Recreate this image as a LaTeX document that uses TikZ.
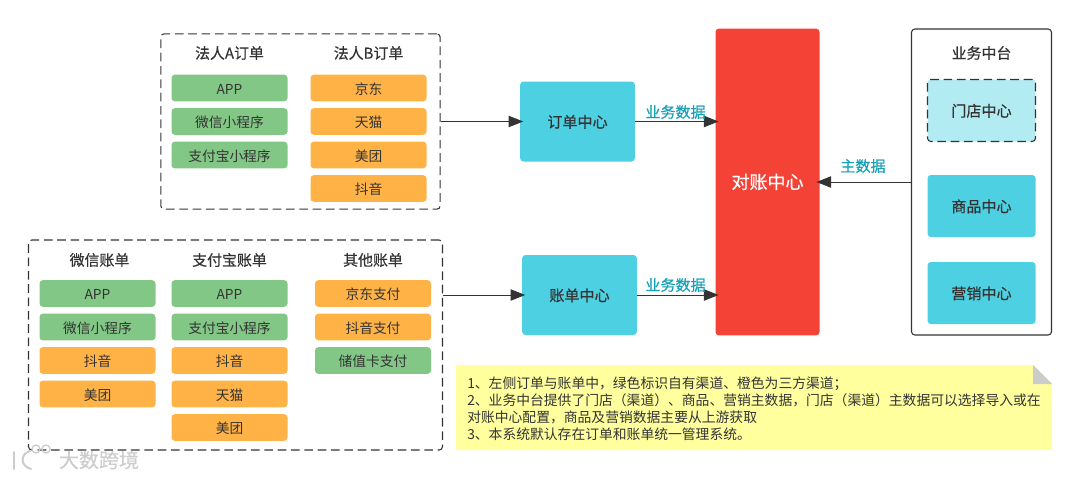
\documentclass[tikz,border=0pt]{standalone}
\usepackage{fontspec}
\usepackage{xcolor}
\usetikzlibrary{arrows.meta}
\setmainfont{Noto Sans CJK SC}
\definecolor{selfgreen}{RGB}{130, 199, 133}
\definecolor{thirdorange}{RGB}{255, 179, 71}
\definecolor{centercyan}{RGB}{77, 208, 225}
\definecolor{lightcyan}{RGB}{178, 235, 242}
\definecolor{reconred}{RGB}{244, 67, 54}
\definecolor{notegold}{RGB}{255, 255, 158}
\definecolor{labelteal}{RGB}{23, 160, 182}
\definecolor{inkgray}{RGB}{51, 51, 51}
\tikzset{
  box/.style={rounded corners=2.5pt,inner sep=0pt,text=inkgray,text height=10.6pt,text depth=1.5pt,font=\fontsize{10.3}{12.75}\selectfont},
  chan/.style={box,minimum width=87pt,minimum height=20pt},
  selfchan/.style={chan,fill=selfgreen},
  thirdchan/.style={chan,fill=thirdorange},
  groupbox/.style={box,draw=inkgray,line width=0.8pt,dash pattern=on 6.5pt off 3.5pt},
  head/.style={inner sep=0pt,text=inkgray,font=\fontsize{11.2}{12.75}\selectfont\addfontfeature{FakeBold=0.5}},
  center/.style={box,fill=centercyan,minimum width=86pt,minimum height=60pt,font=\fontsize{11.3}{12.75}\selectfont\addfontfeature{FakeBold=0.5}},
  platform/.style={center,minimum width=81pt,minimum height=46.5pt},
  flow/.style={-{Triangle[length=11pt,width=8.5pt]},draw=inkgray,line width=0.75pt,shorten >=-2.5pt},
  datalabel/.style={inner sep=0pt,text=labelteal,font=\fontsize{11.3}{12.75}\selectfont\addfontfeature{FakeBold=0.4}},
}
\begin{document}
\begin{tikzpicture}[x=0.75pt,y=0.75pt,yscale=-1,xscale=1]
\useasboundingbox (0,0) rectangle (1080,479);

% dashed groups
\node [groupbox,minimum width=209.5pt,minimum height=131.5pt] (ordergroup) at (300.5,121.5) {};
\node [groupbox,minimum width=310.5pt,minimum height=157.5pt] (billgroup) at (235.5,345) {};

% order group
\node [head] (heada) at (229.5,53) {法人A订单};
\node [head] (headb) at (368.5,53) {法人B订单};
\node [selfchan] (aapp) at (229.5,88) {APP};
\node [selfchan] (awechat) at (229.5,121.5) {微信小程序};
\node [selfchan] (aalipay) at (229.5,155) {支付宝小程序};
\node [thirdchan] (bjd) at (368.5,88) {京东};
\node [thirdchan] (btmall) at (368.5,121.5) {天猫};
\node [thirdchan] (bmeituan) at (368.5,155) {美团};
\node [thirdchan] (bdouyin) at (368.5,188.5) {抖音};

% bill group
\node [head] (headwx) at (99.5,260) {微信账单};
\node [head] (headzfb) at (229.5,260) {支付宝账单};
\node [head] (headother) at (373,260) {其他账单};
\node [selfchan] (wxapp) at (97.5,293.5) {APP};
\node [selfchan] (wxmini) at (97.5,327) {微信小程序};
\node [thirdchan] (wxdouyin) at (97.5,360.5) {抖音};
\node [thirdchan] (wxmeituan) at (97.5,394) {美团};
\node [selfchan] (zfbapp) at (229.5,293.5) {APP};
\node [selfchan] (zfbmini) at (229.5,327) {支付宝小程序};
\node [thirdchan] (zfbdouyin) at (229.5,360.5) {抖音};
\node [thirdchan] (zfbtmall) at (229.5,394) {天猫};
\node [thirdchan] (zfbmeituan) at (229.5,427.5) {美团};
\node [thirdchan] (otherjd) at (373,293.5) {京东支付};
\node [thirdchan] (otherdouyin) at (373,327) {抖音支付};
\node [selfchan] (othercard) at (373,360.5) {储值卡支付};

% centers
\node [center] (ordercenter) at (577.5,121.5) {订单中心};
\node [center] (billcenter) at (579.5,295) {账单中心};
\node [box,fill=reconred,minimum width=78pt,minimum height=230pt,text=white,text height=12pt,text depth=2pt,font=\fontsize{13.5}{15}\selectfont\addfontfeature{FakeBold=0.5}] (recon) at (767.5,182) {对账中心};

% business platform
\node [box,draw=inkgray,line width=0.8pt,minimum width=105pt,minimum height=229.5pt] (platformbox) at (981.5,182) {};
\node [head] (platformhead) at (981.5,53) {业务中台};
\node [platform,fill=lightcyan,draw=inkgray,line width=0.8pt,dash pattern=on 6.5pt off 3.5pt] (store) at (981.5,110.5) {门店中心};
\node [platform] (goods) at (981.5,206) {商品中心};
\node [platform] (marketing) at (981.5,293) {营销中心};

% connectors
\draw [flow] (ordergroup.east) -- (ordercenter.west);
\draw [flow] (billgroup.east |- billcenter.west) -- (billcenter.west);
\draw [flow] (ordercenter.east) -- (ordercenter.east -| recon.west);
\draw [flow] (billcenter.east) -- (billcenter.east -| recon.west);
\draw [flow] (platformbox.west) -- (recon.east);
\node [datalabel] (datatop) at (675.5,112) {业务数据};
\node [datalabel] (databottom) at (675.5,285) {业务数据};
\node [datalabel] (datamaster) at (863,166) {主数据};

% note
\fill [notegold] (456,365) -- (1033,365) -- (1052,384) -- (1052,450) -- (456,450) -- cycle;
\fill [black!20] (1033,365) -- (1052,384) -- (1033,384) -- cycle;
\node [inner sep=0pt,anchor=north west,align=left,text=inkgray,font=\fontsize{10.35}{12.75}\selectfont] (notetext) at (467,376.5) {1、左侧订单与账单中，绿色标识自有渠道、橙色为三方渠道；\\2、业务中台提供了门店（渠道）、商品、营销主数据，门店（渠道）主数据可以选择导入或在\\对账中心配置，商品及营销数据主要从上游获取\\3、本系统默认存在订单和账单统一管理系统。};

% watermark
\node [inner sep=0pt,text=black!20,font=\fontsize{15}{18}\selectfont\addfontfeature{FakeBold=0.3}] (watermark) at (99,460) {大数跨境};
\draw [black!20,line width=1.5pt,line cap=round] (14,452) -- (14,469);
\draw [black!20,line width=1.5pt,line cap=round] (30,451) .. controls (20,454) and (20,466) .. (31,469);
\draw [black!20,line width=1pt] (36,449) circle (4);
\draw [black!20,line width=1pt] (46,449) circle (4);
\end{tikzpicture}
\end{document}
